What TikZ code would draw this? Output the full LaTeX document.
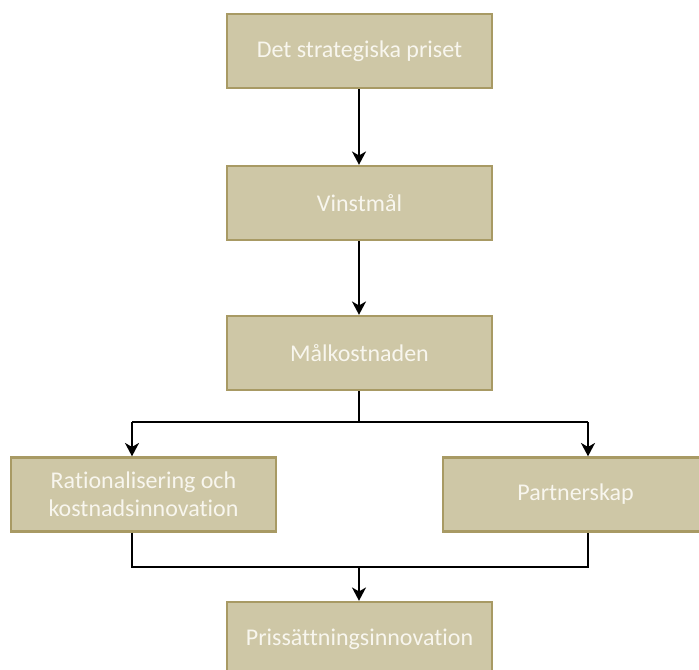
\documentclass[tikz,border=0pt]{standalone}
\usepackage{fontspec}
\setmainfont[Ligatures={NoCommon}]{Carlito}
\usetikzlibrary{positioning,arrows.meta,calc}
\definecolor{boxfill}{RGB}{206,199,166}
\definecolor{boxline}{RGB}{168,154,100}
\definecolor{boxtext}{RGB}{248,246,238}
\tikzset{every picture/.style={>={Stealth[length=10pt,width=10.5pt,inset=3pt]},line width=1.5pt}}
\tikzset{stepbox/.style={draw=boxline,line width=1.8pt,fill=boxfill,text=boxtext,
  font=\fontsize{18}{21}\selectfont,align=center,inner sep=0pt,
  minimum width=198.75pt,minimum height=55.5pt}}

\begin{document}
\begin{tikzpicture}[x=0.75pt,y=-0.75pt]
      \useasboundingbox (0,0) rectangle (699,670);
      \node[stepbox] (pris) at (359.5,51) {Det strategiska priset};
      \node[stepbox] (vinst) at (359.5,203) {Vinstmål};
      \node[stepbox] (malkost) at (359.5,353) {Målkostnaden};
      \node[stepbox] (rational) at (143.5,494.5) {Rationalisering och\\kostnadsinnovation};
      \node[stepbox] (partner) at (575.5,494.5) {Partnerskap};
      \node[stepbox] (prissatt) at (359.5,639) {Prissättningsinnovation};
      % hjalppunkter for grenarna
      \coordinate (split) at (359,422);
      \coordinate (lsplit) at (132,422);
      \coordinate (rsplit) at (588,422);
      \coordinate (join) at (359,567);
      \coordinate (ljoin) at (132,567);
      \coordinate (rjoin) at (588,567);
      \draw[->] (pris.south -| split) -- (vinst.north -| split);
      \draw[->] (vinst.south -| split) -- (malkost.north -| split);
      \draw (malkost.south -| split) -- (split);
      \draw (lsplit) -- (rsplit);
      \draw[->] (lsplit) -- (rational.north -| lsplit);
      \draw[->] (rsplit) -- (partner.north -| rsplit);
      \draw (rational.south -| ljoin) -- (ljoin) -- (rjoin) -- (partner.south -| rjoin);
      \draw[->] (join) -- (prissatt.north -| join);
    \end{tikzpicture}
\end{document}
